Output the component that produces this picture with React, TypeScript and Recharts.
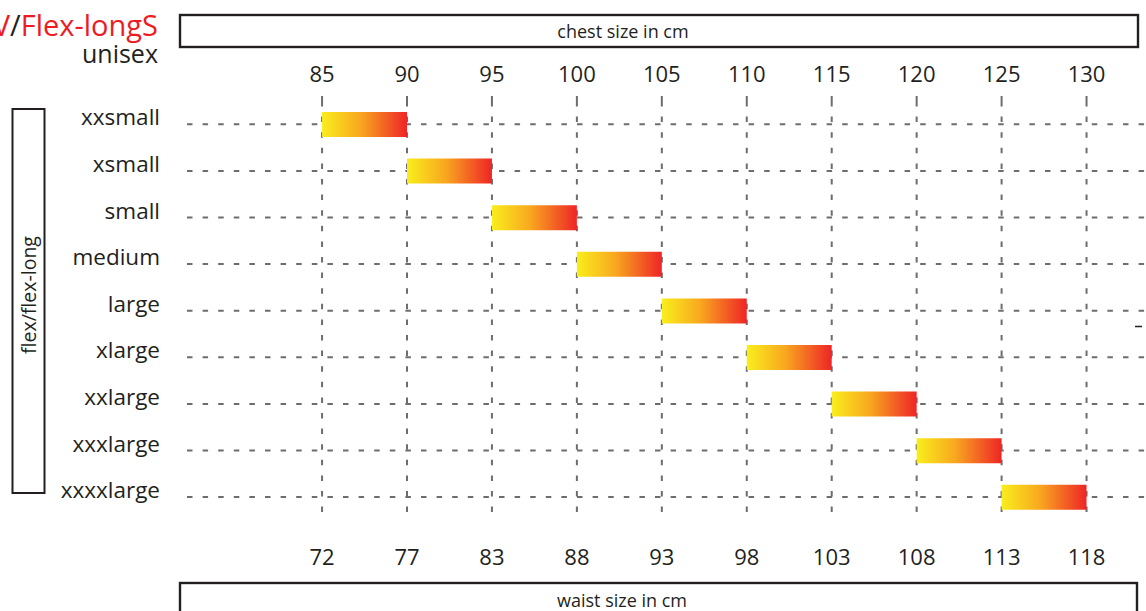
import React from 'react';
import { BarChart, Bar, XAxis, YAxis, CartesianGrid } from 'recharts';

const sizes = ['xxsmall', 'xsmall', 'small', 'medium', 'large', 'xlarge', 'xxlarge', 'xxxlarge', 'xxxxlarge'];
const chestFrom = [85, 90, 95, 100, 105, 110, 115, 120, 125];
const chestTo = [90, 95, 100, 105, 110, 115, 120, 125, 130];
const chestTicks = [85, 90, 95, 100, 105, 110, 115, 120, 125, 130];
const waistLabels = ['72', '77', '83', '88', '93', '98', '103', '108', '113', '118'];

const data = sizes.map((s, i) => ({ size: s, chest: [chestFrom[i], chestTo[i]] }));

const FONT = '"Open Sans", "Noto Sans", sans-serif';
const INK = '#231f20';
const RED = '#ed1c24';
const GRID = '#6d6d6d';

const TopTick = (props: any) => {
  const { x, y, payload } = props;
  return (
    <text x={x} y={y} dy={-14} textAnchor="middle" fontFamily={FONT} fontSize={22} fill={INK}>
      {payload.value}
    </text>
  );
};

const BottomTick = (props: any) => {
  const { x, y, index } = props;
  return (
    <text x={x} y={y} dy={45} textAnchor="middle" fontFamily={FONT} fontSize={22} fill={INK}>
      {waistLabels[index]}
    </text>
  );
};

const LeftTick = (props: any) => {
  const { x, y, payload } = props;
  return (
    <text x={x} y={y} dy={1} textAnchor="end" fontFamily={FONT} fontSize={22.5} fill={INK}>
      {payload.value}
    </text>
  );
};

export default function App() {
  return (
    <div style={{ position: 'absolute', left: 0, top: 0, width: 1146, height: 611, background: '#fff', overflow: 'hidden' }}>
      <BarChart
        width={1146}
        height={611}
        layout="vertical"
        data={data}
        margin={{ top: 0, right: 0, bottom: 0, left: 0 }}
        barCategoryGap={0}
      >
        <defs>
          <linearGradient id="sizeGrad" x1="0" y1="0" x2="1" y2="0">
            <stop offset="0%" stopColor="#f9ee1c" />
            <stop offset="45%" stopColor="#f8a81f" />
            <stop offset="100%" stopColor="#ee2526" />
          </linearGradient>
        </defs>
        <CartesianGrid
          xAxisId="top"
          stroke={GRID}
          strokeWidth={2}
          strokeDasharray="5.5 10.1"
          syncWithTicks
        />
        <XAxis
          xAxisId="top"
          orientation="top"
          type="number"
          domain={[77.05, 133.5]}
          allowDataOverflow
          ticks={chestTicks}
          height={101}
          axisLine={false}
          tickLine={{ stroke: GRID, strokeWidth: 2 }}
          tickSize={5}
          tickMargin={0}
          tick={<TopTick />}
          interval={0}
        />
        <XAxis
          xAxisId="bottom"
          orientation="bottom"
          type="number"
          domain={[77.05, 133.5]}
          allowDataOverflow
          ticks={chestTicks}
          height={90.6}
          axisLine={false}
          tickLine={false}
          tickSize={0}
          tickMargin={0}
          tick={<BottomTick />}
          interval={0}
        />
        <YAxis
          type="category"
          dataKey="size"
          width={187}
          axisLine={false}
          tickLine={false}
          tickSize={0}
          tickMargin={27}
          tick={<LeftTick />}
          interval={0}
        />
        <Bar
          xAxisId="top"
          dataKey="chest"
          fill="url(#sizeGrad)"
          barSize={25}
          isAnimationActive={false}
        />
      </BarChart>
      <svg
        width={1146}
        height={611}
        style={{ position: 'absolute', left: 0, top: 0, pointerEvents: 'none' }}
      >
        <text x={158} y={36} textAnchor="end" fontFamily={FONT} fontSize={29} fill={RED}>
          <tspan fill={RED}>V</tspan>
          <tspan fill={INK}>/</tspan>
          <tspan fill={RED}>Flex-longS</tspan>
        </text>
        <text x={158} y={63} textAnchor="end" fontFamily={FONT} fontSize={25} fill={INK}>
          unisex
        </text>
        <rect x={180} y={15} width={958} height={32} fill="none" stroke={INK} strokeWidth={2.4} />
        <text x={623} y={38} textAnchor="middle" fontFamily={FONT} fontSize={18} fill={INK}>
          chest size in cm
        </text>
        <rect x={180} y={583} width={957} height={40} fill="none" stroke={INK} strokeWidth={2.4} />
        <text x={622} y={607} textAnchor="middle" fontFamily={FONT} fontSize={18} fill={INK}>
          waist size in cm
        </text>
        <rect x={12.5} y={109} width={32} height={384} fill="none" stroke={INK} strokeWidth={2} />
        <text
          x={28}
          y={295}
          textAnchor="middle"
          dominantBaseline="central"
          transform="rotate(-90 28 295)"
          fontFamily={FONT}
          fontSize={19.5}
          fill={INK}
        >
          flex/flex-long
        </text>
        <line x1={1135} y1={326.5} x2={1142} y2={326.5} stroke={INK} strokeWidth={1.5} />
      </svg>
    </div>
  );
}
